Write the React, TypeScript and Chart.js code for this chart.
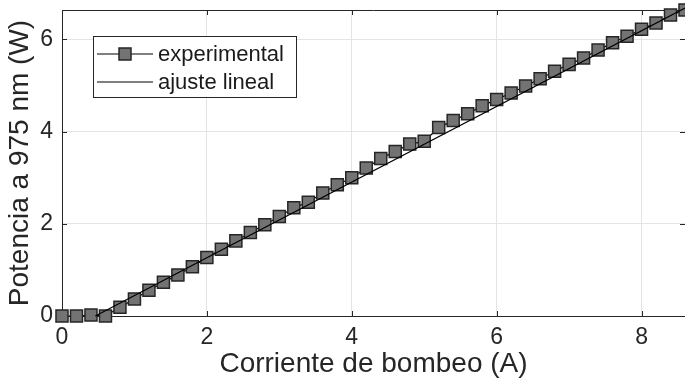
import React, { useEffect, useRef } from 'react';
import { Chart, registerables } from 'chart.js';

Chart.register(...registerables);

// Data
const currentA = [
  0, 0.2, 0.4, 0.6, 0.8, 1.0, 1.2, 1.4, 1.6, 1.8,
  2.0, 2.2, 2.4, 2.6, 2.8, 3.0, 3.2, 3.4, 3.6, 3.8,
  4.0, 4.2, 4.4, 4.6, 4.8, 5.0, 5.2, 5.4, 5.6, 5.8,
  6.0, 6.2, 6.4, 6.6, 6.8, 7.0, 7.2, 7.4, 7.6, 7.8,
  8.0, 8.2, 8.4, 8.6,
];
const powerW = [
  0, 0, 0.02, 0, 0.19, 0.37, 0.56, 0.73, 0.89, 1.07,
  1.27, 1.45, 1.63, 1.81, 1.98, 2.16, 2.35, 2.47, 2.67, 2.85,
  3.0, 3.21, 3.42, 3.57, 3.73, 3.79, 4.09, 4.24, 4.39, 4.56,
  4.7, 4.84, 4.99, 5.15, 5.31, 5.46, 5.6, 5.77, 5.93, 6.07,
  6.22, 6.36, 6.53, 6.64,
];
const fitCurrentA = [0.46, 8.6];
const fitPowerW = [0, 6.68];

const xTicks = [0, 2, 4, 6, 8];
const yTicks = [0, 2, 4, 6];
const xRange = [0, 8.6];
const yRange = [0, 6.64];
const xLabel = 'Corriente de bombeo (A)';
const yLabel = 'Potencia a 975 nm (W)';
const legendLabels = ['experimental', 'ajuste lineal'];

const FONT = "'Liberation Sans', Arial, Helvetica, sans-serif";
const AXIS = '#262626';
const GRID = '#e4e4e4';
const MARK_FILL = '#737373';

function drawSquare(ctx: CanvasRenderingContext2D, x: number, y: number, side: number) {
  ctx.fillStyle = MARK_FILL;
  ctx.strokeStyle = AXIS;
  ctx.lineWidth = 1.5;
  ctx.beginPath();
  ctx.rect(x - side / 2, y - side / 2, side, side);
  ctx.fill();
  ctx.stroke();
}

const framePlugin = {
  id: 'matlabFrame',
  beforeDatasetsDraw(chart: any) {
    const { ctx, chartArea: a, scales } = chart;
    const x = scales.x;
    const y = scales.y;
    const tl = 5;
    ctx.save();
    ctx.strokeStyle = AXIS;
    ctx.lineWidth = 1;
    ctx.beginPath();
    ctx.moveTo(a.left, a.top + 0.5);
    ctx.lineTo(a.right, a.top + 0.5);
    xTicks.forEach((v) => {
      const px = Math.round(x.getPixelForValue(v)) + 0.5;
      ctx.moveTo(px, a.bottom);
      ctx.lineTo(px, a.bottom - tl);
      ctx.moveTo(px, a.top);
      ctx.lineTo(px, a.top + tl);
    });
    yTicks.forEach((v) => {
      const py = Math.round(y.getPixelForValue(v)) + 0.5;
      ctx.moveTo(a.left, py);
      ctx.lineTo(a.left + tl, py);
      ctx.moveTo(a.right, py);
      ctx.lineTo(a.right - tl, py);
    });
    ctx.stroke();
    ctx.restore();
  },
  afterDraw(chart: any) {
    const { ctx, chartArea: a } = chart;
    const bx = a.left + 31;
    const by = a.top + 26;
    const bw = 203;
    const bh = 61;
    ctx.save();
    ctx.fillStyle = '#ffffff';
    ctx.fillRect(bx, by, bw, bh);
    ctx.strokeStyle = AXIS;
    ctx.lineWidth = 1;
    ctx.strokeRect(bx + 0.5, by + 0.5, bw, bh);
    const rows = [by + 18, by + 46];
    ctx.font = `22px ${FONT}`;
    ctx.textBaseline = 'middle';
    ctx.textAlign = 'left';
    rows.forEach((ry, i) => {
      ctx.strokeStyle = '#000000';
      ctx.lineWidth = 1.2;
      ctx.beginPath();
      ctx.moveTo(bx + 4, ry);
      ctx.lineTo(bx + 60, ry);
      ctx.stroke();
      if (i === 0) drawSquare(ctx, bx + 32, ry, 12);
      ctx.fillStyle = '#1a1a1a';
      ctx.fillText(legendLabels[i], bx + 65, ry + 1);
    });
    ctx.restore();
  },
};

export default function App() {
  const canvasRef = useRef<HTMLCanvasElement | null>(null);

  useEffect(() => {
    if (!canvasRef.current) return;
    const expData = currentA.map((v, i) => ({ x: v, y: powerW[i] }));
    const fitData = fitCurrentA.map((v, i) => ({ x: v, y: fitPowerW[i] }));
    const chart = new Chart(canvasRef.current, {
      type: 'line',
      data: {
        datasets: [
          {
            label: legendLabels[0],
            data: expData,
            borderColor: '#000000',
            borderWidth: 1.2,
            pointStyle: 'rect',
            pointRadius: 8.5,
            pointBackgroundColor: MARK_FILL,
            pointBorderColor: AXIS,
            pointBorderWidth: 1.5,
            tension: 0,
            clip: false as any,
            order: 1,
          },
          {
            label: legendLabels[1],
            data: fitData,
            borderColor: '#000000',
            borderWidth: 1.2,
            pointRadius: 0,
            tension: 0,
            clip: false as any,
            order: 0,
          },
        ],
      },
      options: {
        animation: false,
        responsive: false,
        events: [],
        layout: { autoPadding: false, padding: { top: 10, right: 0, bottom: 0, left: 0 } },
        plugins: {
          legend: { display: false },
          tooltip: { enabled: false },
        },
        scales: {
          x: {
            type: 'linear',
            min: xRange[0],
            max: xRange[1],
            afterBuildTicks: (s: any) => {
              s.ticks = xTicks.map((value) => ({ value }));
            },
            afterFit: (s: any) => {
              s.height = 69;
              s.paddingLeft = 0;
              s.paddingRight = 0;
            },
            grid: { color: GRID, lineWidth: 1, drawTicks: false },
            border: { color: AXIS, width: 1 },
            ticks: {
              font: { family: FONT, size: 23 },
              color: AXIS,
              padding: 8,
              maxRotation: 0,
              autoSkip: false,
            },
            title: {
              display: true,
              text: xLabel,
              font: { family: FONT, size: 28 },
              color: AXIS,
              padding: { top: 0, bottom: 4 },
            },
          },
          y: {
            type: 'linear',
            min: yRange[0],
            max: yRange[1],
            afterBuildTicks: (s: any) => {
              s.ticks = yTicks.map((value) => ({ value }));
            },
            afterFit: (s: any) => {
              s.width = 62;
              s.paddingTop = 0;
              s.paddingBottom = 0;
            },
            grid: { color: GRID, lineWidth: 1, drawTicks: false },
            border: { color: AXIS, width: 1 },
            ticks: {
              font: { family: FONT, size: 23 },
              color: AXIS,
              padding: 9,
              autoSkip: false,
            },
            title: {
              display: true,
              text: yLabel,
              font: { family: FONT, size: 28 },
              color: AXIS,
              padding: { top: 3, bottom: 0 },
            },
          },
        },
      },
      plugins: [framePlugin],
    });
    return () => chart.destroy();
  }, []);

  return (
    <div style={{ position: 'absolute', left: 0, top: 0, width: 685, height: 385, background: '#fff' }}>
      <canvas ref={canvasRef} width={685} height={385} />
    </div>
  );
}
